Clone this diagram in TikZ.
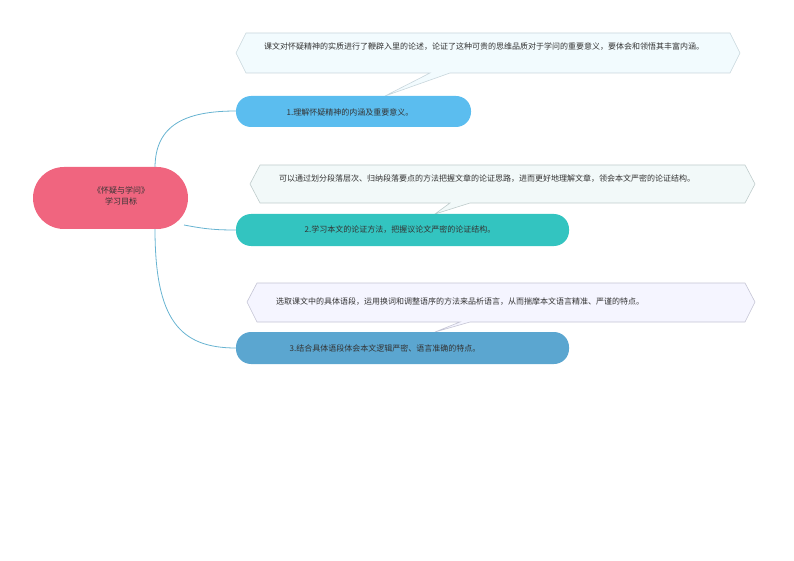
\documentclass[tikz,border=0pt]{standalone}
\usepackage{fontspec}
\setmainfont{Noto Sans CJK SC}
\begin{document}
\begin{tikzpicture}[x=1pt,y=-1pt,
  br/.style={rounded corners=15pt,draw=none},
  cl/.style={draw=#1,line width=0.6pt},
  lk/.style={draw=cyan!50!teal!70,line width=0.8pt},
  tx/.style={font=\fontsize{8}{10.5}\selectfont,text=black!80,inner sep=0pt}]
\useasboundingbox (0,0) rectangle (794,561);
% callouts
\path[fill=cyan!5,cl=cyan!25!gray!40] (246,33)--(730,33)--(740,53)--(730,73)--(450,73)--(385,96)--(430,73)--(246,73)--(236,53)--cycle;
\node[tx,anchor=north west,text width=470pt] (c1) at (264,43) {课文对怀疑精神的实质进行了鞭辟入里的论述，论证了这种可贵的思维品质对于学问的重要意义，要体会和领悟其丰富内涵。};
\path[fill=teal!5,cl=teal!25!gray!40] (260,165)--(745,165)--(755,184)--(745,203)--(470,203)--(435,214)--(450,203)--(260,203)--(250,184)--cycle;
\node[tx,anchor=north west,text width=475pt] (c2) at (279,174) {可以通过划分段落层次、归纳段落要点的方法把握文章的论证思路，进而更好地理解文章，领会本文严密的论证结构。};
\path[fill=blue!4,cl=blue!15!gray!40] (257,283)--(745,283)--(755,302)--(745,322)--(470,322)--(435,332)--(460,322)--(257,322)--(247,302)--cycle;
\node[tx,anchor=west] (c3) at (276,302) {选取课文中的具体语段，运用换词和调整语序的方法来品析语言，从而揣摩本文语言精准、严谨的特点。};
% links
\coordinate (r1) at (155,168);
\coordinate (r2) at (184,225);
\coordinate (r3) at (155,229);
\draw[lk] (r1) .. controls (155,125) and (185,111) .. (236,111);
\draw[lk] (r2) .. controls (205,229) and (215,230) .. (236,230);
\draw[lk] (r3) .. controls (155,320) and (180,348) .. (236,348);
% root
\path[fill={rgb,255:red,240;green,101;blue,127},rounded corners=31pt] (33,167) rectangle (188,229);
\node[tx] (root) at (121,197) {\begin{tabular}{c}《怀疑与学问》\\学习目标\end{tabular}};
% branches
\path[fill={rgb,255:red,91;green,189;blue,239},br] (236,96) rectangle (471,127);
\node[tx] (b1) at (350,112) {1.理解怀疑精神的内涵及重要意义。};
\path[fill={rgb,255:red,51;green,196;blue,192},br] (236,214) rectangle (569,246);
\node[tx] (b2) at (400,230) {2.学习本文的论证方法，把握议论文严密的论证结构。};
\path[fill={rgb,255:red,91;green,166;blue,208},br] (236,332) rectangle (569,364);
\node[tx] (b3) at (385,348) {3.结合具体语段体会本文逻辑严密、语言准确的特点。};
\end{tikzpicture}
\end{document}
